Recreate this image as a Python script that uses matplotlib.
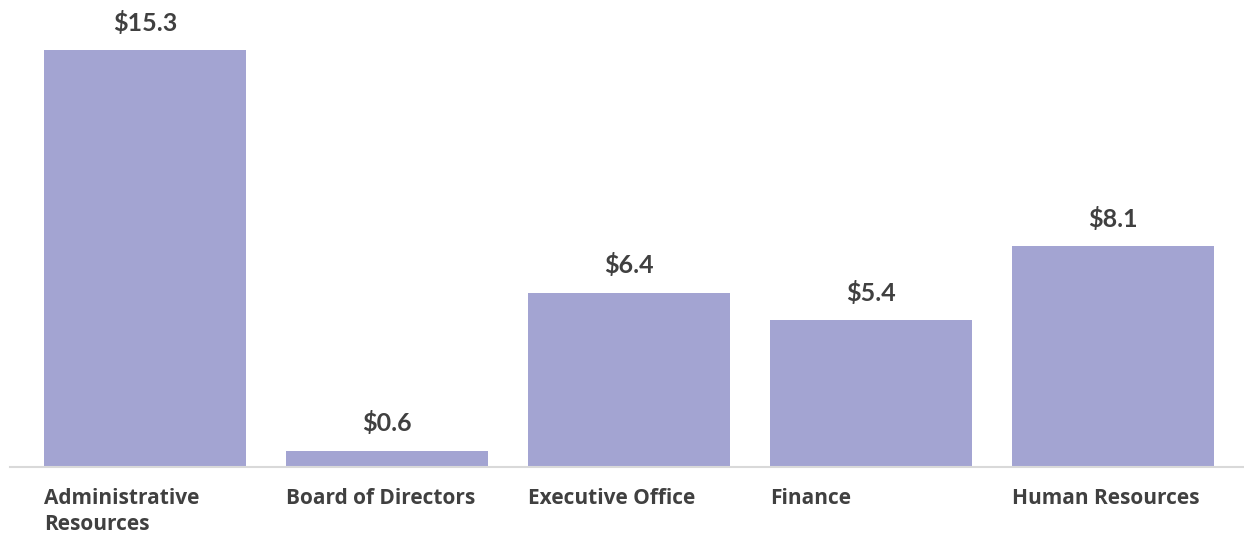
import matplotlib
matplotlib.use("Agg")
import matplotlib.pyplot as plt
import numpy as np

categories = ["Administrative\nResources", "Board of Directors", "Executive Office",
              "Finance", "Human Resources"]
values = [15.3, 0.6, 6.4, 5.4, 8.1]

C_BAR = "#A3A4D2"
C_TXT = "#404040"
plt.rcParams["font.family"] = ["Lato", "DejaVu Sans"]

W, H = 1244, 537
fig = plt.figure(figsize=(W / 100, H / 100), dpi=100)
base_px = 467
ax = fig.add_axes([10 / W, (H - base_px) / H, 1 - 10 / W, base_px / H])

x = np.arange(len(categories))
width = 0.835
ax.bar(x, values, width, color=C_BAR)

px_per_unit = 417 / 15.3
ax.set_ylim(0, base_px / px_per_unit)
ax.set_xlim((10 - 145) / 242, (1244 - 145) / 242)

for xi, v in zip(x, values):
    ax.annotate(f"${v:.1f}", (xi, v), xytext=(0, 11), textcoords="offset points",
                ha="center", va="bottom", fontsize=18, fontweight="bold", color=C_TXT)

for xi, lbl in zip(x, categories):
    ax.annotate(lbl, (xi - width / 2, 0), xytext=(0, -15), textcoords="offset points",
                ha="left", va="top", fontsize=15, fontweight="bold", color=C_TXT,
                family=["Open Sans", "DejaVu Sans"],
                linespacing=1.3, annotation_clip=False)

for s in ["top", "right", "left"]:
    ax.spines[s].set_visible(False)
ax.spines["bottom"].set_color("#D9D9D9")
ax.spines["bottom"].set_linewidth(1.5)
ax.set_xticks([])
ax.set_yticks([])

fig.savefig("out.png", dpi=100, facecolor="white")
